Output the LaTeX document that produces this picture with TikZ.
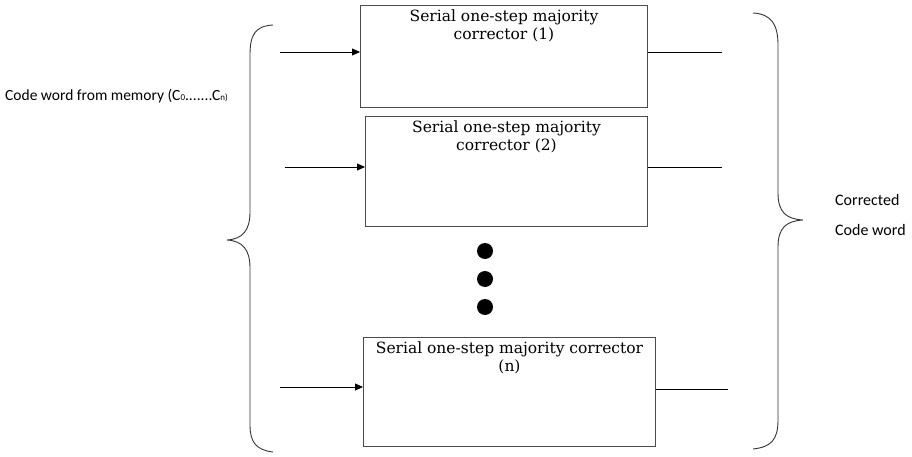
\documentclass[tikz,border=0pt]{standalone}
\usepackage{fontspec}
\setmainfont{DejaVu Serif}
\newfontfamily\labelfont{Carlito}
\usetikzlibrary{arrows.meta}
\begin{document}
\begin{tikzpicture}[x=1pt,y=-1pt,
  corrbox/.style={draw=black!70, line width=1pt},
  boxtext/.style={font=\fontsize{15.5}{18}\selectfont, align=center, anchor=north, inner sep=0pt},
  inarrow/.style={draw, line width=0.8pt, -{Triangle[length=8pt,width=7pt]}},
  outline/.style={draw, line width=0.8pt},
  bracestyle/.style={draw=black!80, line width=0.9pt},
  sidelabel/.style={font=\labelfont\fontsize{16}{18}\selectfont, anchor=west, inner sep=0pt}]
\useasboundingbox (0,0) rectangle (912,457);

% three corrector blocks
\node[corrbox, minimum width=287pt, minimum height=102pt, anchor=north west] (b1) at (360,5) {};
\node[corrbox, minimum width=282pt, minimum height=110pt, anchor=north west] (b2) at (365,116) {};
\node[corrbox, minimum width=292pt, minimum height=109pt, anchor=north west] (b3) at (363,337) {};

\node[boxtext] (t1) at ([yshift=-5pt]b1.north) {Serial one-step majority\\corrector (1)};
\node[boxtext] (t2) at ([yshift=-5pt]b2.north) {Serial one-step majority\\corrector (2)};
\node[boxtext] (t3) at ([yshift=-5pt]b3.north) {Serial one-step majority corrector\\(n)};

% inputs
\coordinate (i1) at (280,52);
\coordinate (i2) at (285,167);
\coordinate (i3) at (280,387);
\draw[inarrow] (i1) -- (i1 -| b1.west);
\draw[inarrow] (i2) -- (i2 -| b2.west);
\draw[inarrow] (i3) -- (i3 -| b3.west);

% outputs
\coordinate (o1) at (722,52);
\coordinate (o2) at (722,167);
\coordinate (o3) at (728,389);
\draw[outline] (o1 -| b1.east) -- (o1);
\draw[outline] (o2 -| b2.east) -- (o2);
\draw[outline] (o3 -| b3.east) -- (o3);

% ellipsis dots
\fill (485,251) circle (8pt);
\fill (485,279) circle (8pt);
\fill (485,307) circle (8pt);

% left brace
\draw[bracestyle] (273,25) .. controls (255,26) and (250,35) .. (250,55)
  -- (250,212) .. controls (250,230) and (243,239) .. (227,240)
  .. controls (243,241) and (250,250) .. (250,268)
  -- (250,425) .. controls (250,442) and (256,450) .. (273,452);

% right brace
\draw[bracestyle] (753,13) .. controls (771,14) and (778,24) .. (778,45)
  -- (778,193) .. controls (778,212) and (786,219) .. (803,220)
  .. controls (786,221) and (778,228) .. (778,247)
  -- (778,420) .. controls (778,440) and (771,447) .. (753,449);

% labels
\node[sidelabel, font=\labelfont\fontsize{15.5}{18}\selectfont] (inlabel) at (5,96) {Code word from memory (C{\fontsize{9}{10}\selectfont 0}.......C{\fontsize{9}{10}\selectfont n)}};
\node[sidelabel] (outlabel1) at (835,200) {Corrected};
\node[sidelabel] (outlabel2) at (835,230) {Code word};
\end{tikzpicture}
\end{document}
